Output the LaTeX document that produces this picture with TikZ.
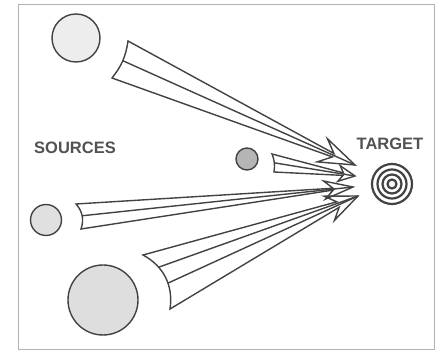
\documentclass[tikz,border=0pt]{standalone}
\usepackage{fontspec}
\setmainfont{Liberation Sans}
\usepackage{tikz}
\usetikzlibrary{calc}
\colorlet{ink}{black!74}

\begin{document}
\begin{tikzpicture}[x=1pt, y=-1pt,
    source/.style={draw=ink, circle, line width=1.4pt, inner sep=0pt},
    beamline/.style={draw=ink, line width=1.4pt, line join=miter},
    ring/.style={draw=ink, line width=2.2pt},
    caption/.style={font=\fontsize{16.5}{16.5}\selectfont\bfseries, text=black!68}
]
\useasboundingbox (0,0) rectangle (439,352);

% ---- Frame ----
\draw[gray!60, line width=0.7pt] (18,4) rectangle (434,349);

% ---- Sources ----
\node[source, fill=gray!14, minimum size=48pt] (srcTop)   at ( 76, 38) {};
\node[source, fill=gray!58, minimum size=22pt] (srcMid)   at (247,159) {};
\node[source, fill=gray!24, minimum size=31pt] (srcLeft)  at ( 46,220) {};
\node[source, fill=gray!26, minimum size=70pt] (srcBig)   at (103,300) {};
\node[caption] (srcText) at (75,148) {SOURCES};

% ---- Target ----
\node[circle, draw=ink, line width=2.2pt, inner sep=0pt, minimum size=40pt] (target) at (392,184) {};
\foreach \r in {14.5, 9.5, 4.5} { \draw[ring] (target.center) circle[radius=\r pt]; }
\node[caption] (tgtText) at (390,144) {TARGET};

% ---- Beam from top source ----
\coordinate (a1) at (128,41);
\coordinate (a2) at (112,78);
\coordinate (aTip) at (355,165);
\path (a1) to[bend left=15] coordinate[pos=0.5] (am) (a2);
\draw[beamline] (a2) to[bend right=15] (a1) -- ($(aTip)!24pt!(a1)$) -- ($(aTip)!38pt!-15:(a1)$)
    -- (aTip) -- ($(aTip)!38pt!15:(a2)$) -- ($(aTip)!24pt!(a2)$) -- cycle;
\draw[beamline] (am) -- (aTip);

% ---- Beam from middle source ----
\coordinate (b1) at (272,154);
\coordinate (b2) at (274,172);
\coordinate (bTip) at (355,176);
\path (b1) to[bend left=15] coordinate[pos=0.5] (bm) (b2);
\draw[beamline] (b2) to[bend right=15] (b1) -- ($(bTip)!12pt!(b1)$) -- ($(bTip)!18pt!-20:(b1)$)
    -- (bTip) -- ($(bTip)!18pt!20:(b2)$) -- ($(bTip)!12pt!(b2)$) -- cycle;
\draw[beamline] (bm) -- (bTip);

% ---- Beam from left source ----
\coordinate (c1) at (76,204);
\coordinate (c2) at (81,229);
\coordinate (cTip) at (353,187);
\path (c1) to[bend left=30] coordinate[pos=0.5] (cm) (c2);
\draw[beamline] (c2) to[bend right=30] (c1) -- ($(cTip)!20pt!(c1)$) -- ($(cTip)!30pt!-15:(c1)$)
    -- (cTip) -- ($(cTip)!30pt!15:(c2)$) -- ($(cTip)!20pt!(c2)$) -- cycle;
\draw[beamline] (cm) -- (cTip);

% ---- Beam from big source ----
\coordinate (d1) at (143,255);
\coordinate (d2) at (170,309);
\coordinate (dTip) at (358,196);
\path (d1) to[bend left=35] coordinate[pos=0.3] (dm1) coordinate[pos=0.6] (dm2) (d2);
\draw[beamline] (d2) to[bend right=35] (d1) -- ($(dTip)!22pt!(d1)$) -- ($(dTip)!34pt!-15:(d1)$)
    -- (dTip) -- ($(dTip)!34pt!15:(d2)$) -- ($(dTip)!22pt!(d2)$) -- cycle;
\draw[beamline] (dm1) -- (dTip);
\draw[beamline] (dm2) -- (dTip);

\end{tikzpicture}
\end{document}
